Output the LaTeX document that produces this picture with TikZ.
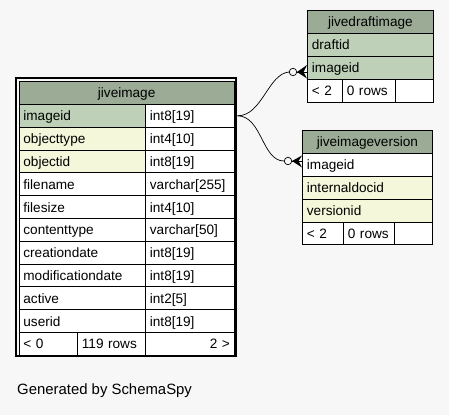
\documentclass[tikz,border=0pt]{standalone}
\usepackage{fontspec}
\setmainfont{Liberation Sans}
\definecolor{bgc}{HTML}{F7F7F7}
\definecolor{hdr}{HTML}{9BAB96}
\definecolor{pkc}{HTML}{BED1B8}
\definecolor{idx}{HTML}{F4F7DA}
\begin{document}
\begin{tikzpicture}[x=1pt,y=-1pt,
  cell/.style={draw=black, line width=0.8pt, anchor=north west, inner xsep=4.5pt, inner ysep=0pt,
    text height=10pt, text depth=0pt, font=\fontsize{13.6}{15}\selectfont, fill=white},
  lc/.style={cell, align=left},
  hc/.style={cell, align=center, fill=hdr},
  rc/.style={cell, align=right},
  rel/.style={line width=0.7pt, black},
  odot/.style={circle, draw=black, line width=0.7pt, fill=bgc, inner sep=0pt, minimum size=7.5pt},
]
\fill[bgc] (0,0) rectangle (449,415);
\useasboundingbox (0,0) rectangle (449,415);

% ---------- jiveimage ----------
\node[hc, text width=206.5pt, minimum height=23.5pt] (jh) at (18.5,80.5) {jiveimage};
\node[lc, fill=pkc, text width=117.5pt, minimum height=22.8pt] (j1n) at (18.5,104) {imageid};
\node[lc, text width=80pt, minimum height=22.8pt] (j1t) at (145,104) {int8[19]};
\node[lc, fill=idx, text width=117.5pt, minimum height=22.8pt] (j2n) at (18.5,126.8) {objecttype};
\node[lc, text width=80pt, minimum height=22.8pt] (j2t) at (145,126.8) {int4[10]};
\node[lc, fill=idx, text width=117.5pt, minimum height=22.8pt] (j3n) at (18.5,149.6) {objectid};
\node[lc, text width=80pt, minimum height=22.8pt] (j3t) at (145,149.6) {int8[19]};
\node[lc, text width=117.5pt, minimum height=22.8pt] (j4n) at (18.5,172.4) {filename};
\node[lc, text width=80pt, minimum height=22.8pt] (j4t) at (145,172.4) {varchar[255]};
\node[lc, text width=117.5pt, minimum height=22.8pt] (j5n) at (18.5,195.2) {filesize};
\node[lc, text width=80pt, minimum height=22.8pt] (j5t) at (145,195.2) {int4[10]};
\node[lc, text width=117.5pt, minimum height=22.8pt] (j6n) at (18.5,218) {contenttype};
\node[lc, text width=80pt, minimum height=22.8pt] (j6t) at (145,218) {varchar[50]};
\node[lc, text width=117.5pt, minimum height=22.8pt] (j7n) at (18.5,240.8) {creationdate};
\node[lc, text width=80pt, minimum height=22.8pt] (j7t) at (145,240.8) {int8[19]};
\node[lc, text width=117.5pt, minimum height=22.8pt] (j8n) at (18.5,263.6) {modificationdate};
\node[lc, text width=80pt, minimum height=22.8pt] (j8t) at (145,263.6) {int8[19]};
\node[lc, text width=117.5pt, minimum height=22.8pt] (j9n) at (18.5,286.4) {active};
\node[lc, text width=80pt, minimum height=22.8pt] (j9t) at (145,286.4) {int2[5]};
\node[lc, text width=117.5pt, minimum height=22.8pt] (j10n) at (18.5,309.2) {userid};
\node[lc, text width=80pt, minimum height=22.8pt] (j10t) at (145,309.2) {int8[19]};
\node[lc, text width=49.5pt, minimum height=22.8pt] (jf1) at (18.5,332) {< 0};
\node[lc, text width=59pt, minimum height=22.8pt] (jf2) at (77,332) {119 rows};
\node[rc, text width=80pt, minimum height=22.8pt] (jf3) at (145,332) {2 >};
\draw[line width=2.6pt] (16,78) rectangle (236,356);

% ---------- jivedraftimage ----------
\node[hc, text width=117pt, minimum height=23pt] (dh) at (307,10) {jivedraftimage};
\node[lc, fill=pkc, text width=117pt, minimum height=23pt] (d1) at (307,33) {draftid};
\node[lc, fill=pkc, text width=117pt, minimum height=23pt] (d2) at (307,56) {imageid};
\node[lc, text width=26pt, minimum height=23pt] (df1) at (307,79) {< 2};
\node[lc, text width=44pt, minimum height=23pt] (df2) at (342,79) {0 rows};
\node[lc, text width=29pt, minimum height=23pt] (df3) at (395,79) {};

% ---------- jiveimageversion ----------
\node[hc, text width=121pt, minimum height=23pt] (vh) at (302,130) {jiveimageversion};
\node[lc, text width=121pt, minimum height=23pt] (v1) at (302,153) {imageid};
\node[lc, fill=idx, text width=121pt, minimum height=23pt] (v2) at (302,176) {internaldocid};
\node[lc, fill=idx, text width=121pt, minimum height=23pt] (v3) at (302,199) {versionid};
\node[lc, text width=32pt, minimum height=22pt] (vf1) at (302,222) {< 2};
\node[lc, text width=42pt, minimum height=22pt] (vf2) at (343,222) {0 rows};
\node[lc, text width=29pt, minimum height=22pt] (vf3) at (394,222) {};

% ---------- relationships ----------
\coordinate (src) at (j1t.east -| 237.5,0);
\node[odot] (c1) at (293,72) {};
\node[odot] (c2) at (288,161) {};
\draw[rel] (src) .. controls (262,116) and (268,74) .. (c1.west);
\draw[rel] (src) .. controls (262,116) and (262,161) .. (c2.west);
\coordinate (a1) at (297,72);
\coordinate (a2) at (292,161);
\fill[black] (a1) -- (d2.west |- 0,65) -- (303.5,72) -- (d2.west |- 0,78.5) -- cycle;
\draw[rel] (a1) -- (d2.west |- a1);
\fill[black] (a2) -- (v1.west |- 0,155.5) -- (298.5,161) -- (v1.west |- 0,167.5) -- cycle;
\draw[rel] (a2) -- (v1.west |- a2);

\node[anchor=base west, inner sep=0pt, font=\fontsize{14.9}{16}\selectfont] (cap) at (17,394) {Generated by SchemaSpy};
\end{tikzpicture}
\end{document}
